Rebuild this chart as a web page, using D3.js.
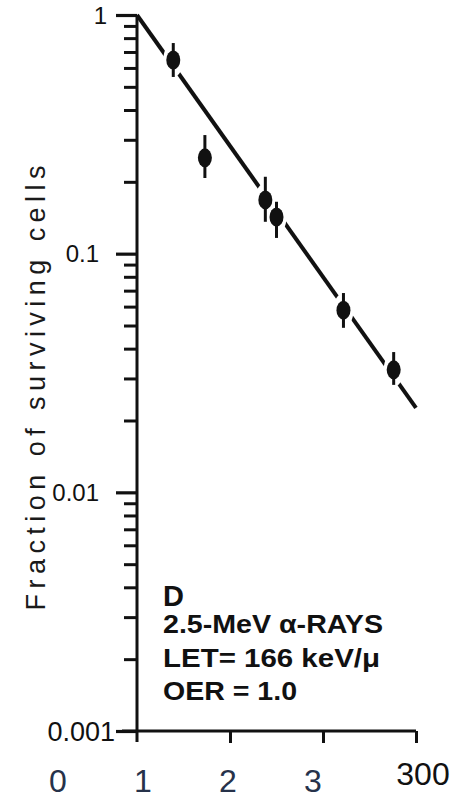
<!DOCTYPE html>
<html>
<head>
<meta charset="utf-8">
<script src="https://cdn.jsdelivr.net/npm/d3@7"></script>
<style>
  html, body { margin: 0; padding: 0; background: #fff; }
  svg { display: block; }
</style>
</head>
<body>
<svg id="chart" width="460" height="799"></svg>
<script>
// ---------- data ----------
const doses      = [39, 73, 138, 150, 222, 276];          // rad
const survival   = [0.648, 0.252, 0.168, 0.1425, 0.058, 0.0326];
const errHigh    = [0.763, 0.314, 0.210, 0.165, 0.0684, 0.0387];
const errLow     = [0.550, 0.2075, 0.136, 0.1164, 0.0489, 0.0282];
const fitDose    = [0, 300];
const fitSurv    = [1, 0.0226];
const yMajorTicks  = [1, 0.1, 0.01, 0.001];
const yMajorLabels = ["1", "0.1", "0.01", "0.001"];
const xAxisTicks   = [0, 100, 200, 300];
const xTickLabels  = ["0", "1", "2", "3"];
const xEndLabel    = "300";
const yTitle = "Fraction of surviving cells";
const annotation = ["D", "2.5-MeV \u03B1-RAYS", "LET= 166 keV/\u03BC", "OER = 1.0"];

// ---------- scales ----------
const svg = d3.select("#chart");
const x = d3.scaleLinear().domain([0, 300]).range([137, 416]);
const y = d3.scaleLog().domain([0.001, 1]).range([731, 15]);

const ink = "#111";
const font = "'Liberation Sans', Arial, Helvetica, sans-serif";

// minor ticks
const minor = [];
[0.001, 0.01, 0.1].forEach(d => { for (let k = 2; k <= 9; k++) minor.push(+(d * k).toPrecision(3)); });

const gMinor = svg.append("g").attr("transform", `translate(${x(0)},0)`)
  .call(d3.axisLeft(y).tickValues(minor).tickSize(13).tickFormat(""));
gMinor.select(".domain").remove();
gMinor.selectAll("line").attr("stroke", ink).attr("stroke-width", 3);

const gMajor = svg.append("g").attr("transform", `translate(${x(0)},0)`)
  .call(d3.axisLeft(y).tickValues(yMajorTicks).tickSize(21).tickFormat(""));
gMajor.select(".domain").remove();
gMajor.selectAll("line").attr("stroke", ink).attr("stroke-width", 3.2);

// y axis line
svg.append("line")
  .attr("x1", x(0)).attr("x2", x(0))
  .attr("y1", y(1)).attr("y2", y(0.001) + 11)
  .attr("stroke", ink).attr("stroke-width", 3);

// x axis line
svg.append("line")
  .attr("x1", x(0) - 15).attr("x2", x(300))
  .attr("y1", y(0.001)).attr("y2", y(0.001))
  .attr("stroke", ink).attr("stroke-width", 3);

// x ticks (downward)
const gx = svg.append("g").attr("transform", `translate(0,${y(0.001)})`)
  .call(d3.axisBottom(x).tickValues(xAxisTicks.slice(1)).tickSize(12).tickFormat(""));
gx.select(".domain").remove();
gx.selectAll("line").attr("stroke", ink).attr("stroke-width", 3);

// y tick labels
const labelOffsets = [30, 38, 38, 22];
svg.append("g").selectAll("text")
  .data(yMajorTicks)
  .join("text")
  .attr("x", (d, i) => x(0) - labelOffsets[i])
  .attr("y", d => y(d))
  .attr("dy", "0.36em")
  .attr("text-anchor", "end")
  .attr("font-family", font)
  .attr("font-size", (d, i) => i === 3 ? 27 : 24)
  .attr("fill", ink)
  .text((d, i) => yMajorLabels[i]);

// y title
svg.append("text")
  .attr("transform", `translate(45,388) rotate(-90)`)
  .attr("text-anchor", "middle")
  .attr("font-family", font)
  .attr("font-size", 27)
  .attr("fill", "#1a1a1a")
  .attr("textLength", 445)
  .attr("lengthAdjust", "spacing")
  .text(yTitle);

// fit line
const line = d3.line().x((d, i) => x(fitDose[i])).y((d, i) => y(fitSurv[i]));
svg.append("path")
  .datum(fitDose)
  .attr("d", line)
  .attr("fill", "none")
  .attr("stroke", ink)
  .attr("stroke-width", 4);

// points
const pts = doses.map((d, i) => ({ d, s: survival[i], lo: errLow[i], hi: errHigh[i] }));
const gp = svg.append("g");
gp.selectAll("ellipse.halo").data(pts).join("ellipse")
  .attr("class", "halo")
  .attr("cx", p => x(p.d)).attr("cy", p => y(p.s))
  .attr("rx", 10).attr("ry", 17)
  .attr("fill", "#fff");
gp.selectAll("line.err").data(pts).join("line")
  .attr("class", "err")
  .attr("x1", p => x(p.d)).attr("x2", p => x(p.d))
  .attr("y1", p => y(p.hi)).attr("y2", p => y(p.lo))
  .attr("stroke", ink).attr("stroke-width", 3);
gp.selectAll("ellipse.pt").data(pts).join("ellipse")
  .attr("class", "pt")
  .attr("cx", p => x(p.d)).attr("cy", p => y(p.s))
  .attr("rx", 7).attr("ry", 9.5)
  .attr("fill", ink);

// annotation
const annX = 163;
const annY = [606, 633, 667, 700];
const annLen = [null, 220, 217, 134];
const annSize = [29, 25, 25, 25];
annotation.forEach((t, i) => {
  const tx = svg.append("text")
    .attr("x", annX)
    .attr("y", annY[i])
    .attr("font-family", font)
    .attr("font-size", annSize[i])
    .attr("font-weight", "bold")
    .attr("fill", ink)
    .text(t);
  if (annLen[i]) tx.attr("textLength", annLen[i]).attr("lengthAdjust", "spacingAndGlyphs");
});

// x tick labels (as in the reference, placed independently of the data axis)
const xl = d3.scalePoint().domain(xTickLabels).range([58, 313]);
svg.append("g").selectAll("text")
  .data(xTickLabels)
  .join("text")
  .attr("x", d => xl(d))
  .attr("y", 792)
  .attr("text-anchor", "middle")
  .attr("font-family", font)
  .attr("font-size", 32)
  .attr("fill", "#26324a")
  .text(d => d);

svg.append("text")
  .attr("x", x(300) + 7)
  .attr("y", 785)
  .attr("text-anchor", "middle")
  .attr("font-family", font)
  .attr("font-size", 32)
  .attr("fill", ink)
  .text(xEndLabel);
</script>
</body>
</html>
